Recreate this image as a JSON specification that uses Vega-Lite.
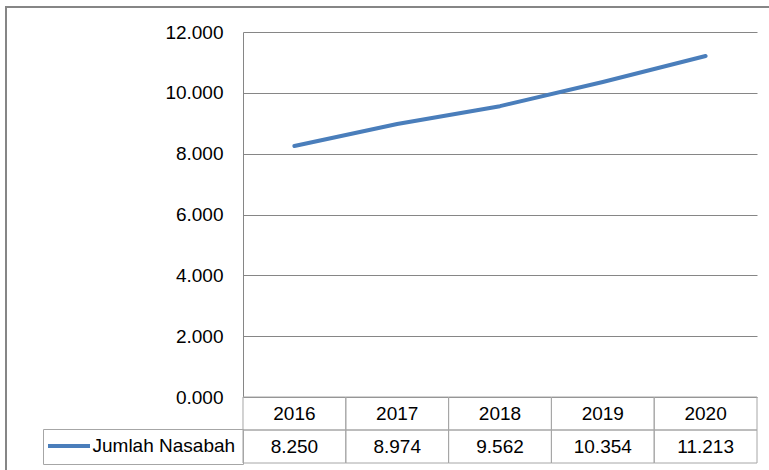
{
  "$schema": "https://vega.github.io/schema/vega-lite/v6.json",
  "width": 770,
  "height": 470,
  "autosize": "none",
  "padding": {"left": 6, "top": 7, "right": 0, "bottom": 0},
  "background": "white",
  "config": {
    "font": "Liberation Sans",
    "view": {"stroke": "#868686", "strokeWidth": 2}
  },
  "data": {
    "values": [
      {"year": "2016", "value": 8.250},
      {"year": "2017", "value": 8.974},
      {"year": "2018", "value": 9.562},
      {"year": "2019", "value": 10.354},
      {"year": "2020", "value": 11.213}
    ]
  },
  "layer": [
    {
      "mark": {"type": "line", "strokeWidth": 4, "strokeCap": "round", "strokeJoin": "round"},
      "encoding": {
        "x": {
          "field": "year", "type": "ordinal", "bandPosition": 0.5,
          "scale": {"type": "band", "range": [237, 751], "paddingInner": 0, "paddingOuter": 0},
          "axis": null
        },
        "y": {
          "field": "value", "type": "quantitative",
          "scale": {"domain": [0, 12], "range": [390, 25], "nice": false, "zero": true},
          "axis": {
            "orient": "left", "offset": -237,
            "values": [0, 2, 4, 6, 8, 10, 12], "format": ".3f",
            "title": null, "ticks": false, "labelPadding": 20,
            "labelFontSize": 19, "labelColor": "#000000",
            "domain": true, "domainColor": "#868686", "domainWidth": 1,
            "grid": true, "gridColor": "#868686", "gridWidth": 1
          }
        },
        "color": {
          "datum": "Jumlah Nasabah",
          "scale": {"range": ["#4a7ebb"]},
          "legend": {
            "title": null, "orient": "none", "legendX": 37, "legendY": 422,
            "strokeColor": "#a6a6a6", "padding": 7.5,
            "symbolType": "M-3,0H3", "symbolSize": 196, "symbolStrokeWidth": 4,
            "symbolOffset": 9,
            "labelFontSize": 19, "labelColor": "#000000", "labelOffset": 14
          }
        }
      }
    },
    {
      "layer": [
        {
          "mark": {"type": "rect", "fill": "transparent", "stroke": "#a6a6a6", "strokeWidth": 1},
          "encoding": {
            "x": {"field": "year", "type": "ordinal"},
            "y": {
              "datum": "Tahun", "type": "nominal",
              "scale": {"type": "band", "domain": ["Tahun", "Jumlah Nasabah"], "range": [390, 456], "paddingInner": 0, "paddingOuter": 0},
              "axis": null
            }
          }
        },
        {
          "mark": {"type": "rect", "fill": "transparent", "stroke": "#a6a6a6", "strokeWidth": 1},
          "encoding": {
            "x": {"field": "year", "type": "ordinal"},
            "y": {"datum": "Jumlah Nasabah", "type": "nominal"}
          }
        },
        {
          "mark": {"type": "text", "fontSize": 19, "color": "#000000", "baseline": "middle", "align": "center"},
          "encoding": {
            "x": {"field": "year", "type": "ordinal", "bandPosition": 0.5},
            "y": {"datum": "Tahun", "type": "nominal", "bandPosition": 0.5},
            "text": {"field": "year"}
          }
        },
        {
          "mark": {"type": "text", "fontSize": 19, "color": "#000000", "baseline": "middle", "align": "center"},
          "encoding": {
            "x": {"field": "year", "type": "ordinal", "bandPosition": 0.5},
            "y": {"datum": "Jumlah Nasabah", "type": "nominal", "bandPosition": 0.5},
            "text": {"field": "value", "type": "quantitative", "format": ".3f"}
          }
        }
      ]
    }
  ],
  "resolve": {"scale": {"y": "independent"}, "axis": {"y": "independent"}}
}
